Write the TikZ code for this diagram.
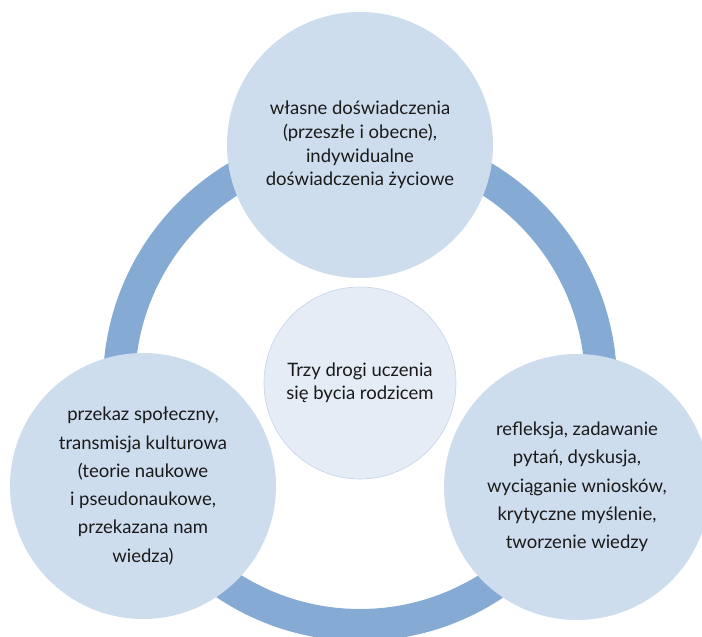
\documentclass[tikz,border=0pt]{standalone}
\usepackage{fontspec}
\setmainfont{Lato}
\definecolor{ringblue}{HTML}{85AAD3}
\definecolor{bigfill}{HTML}{CDDDED}
\definecolor{midfill}{HTML}{E5ECF6}
\definecolor{midline}{HTML}{C3D4E9}
\definecolor{txt}{HTML}{1A1A1A}
\tikzset{
  bigcirc/.style={circle, fill=bigfill, minimum size=266pt, inner sep=0pt, align=center, text=txt},
  midcirc/.style={circle, fill=midfill, draw=midline, line width=0.6pt, minimum size=192pt, inner sep=0pt, align=center, text=txt},
  ringline/.style={draw=ringblue, line width=32pt}
}
\begin{document}
\begin{tikzpicture}[x=1pt,y=-1pt]
\useasboundingbox (0,0) rectangle (702,637);
\coordinate (ctr) at (360,384);
\draw[ringline] (ctr) circle[radius=241pt];
\node[bigcirc, font=\fontsize{18.5}{23.8}\selectfont] (top) at (360,145)
  {własne doświadczenia\\ (przeszłe i obecne),\\indywidualne\\doświadczenia życiowe};
\node[bigcirc, font=\fontsize{18.5}{28.3}\selectfont] (left) at (143,486)
  {przekaz społeczny,\\transmisja kulturowa\\(teorie naukowe\\i pseudonaukowe,\\przekazana nam\\wiedza)};
\node[bigcirc, font=\fontsize{18.5}{28.3}\selectfont] (right) at (577,487)
  {refleksja, zadawanie\\pytań, dyskusja,\\wyciąganie wniosków,\\krytyczne myślenie,\\tworzenie wiedzy};
\node[midcirc, font=\fontsize{18.5}{23.4}\selectfont] (mid) at (360,383)
  {Trzy drogi uczenia\\się bycia rodzicem};
\end{tikzpicture}
\end{document}
